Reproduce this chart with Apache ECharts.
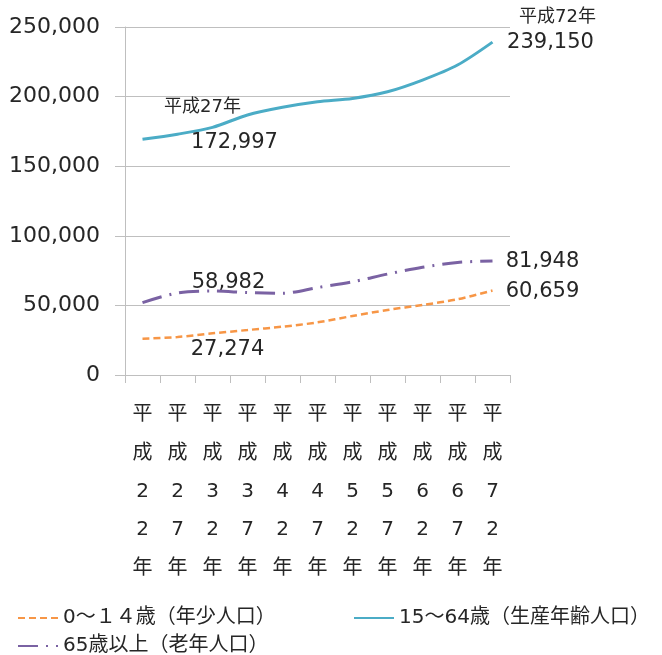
<!DOCTYPE html>
<html><head><meta charset="utf-8">
<script src="https://cdn.jsdelivr.net/npm/echarts@6/dist/echarts.min.js"></script>
<style>html,body{margin:0;padding:0;background:#fff}#c{width:662px;height:655px}</style>
</head><body><div id="c"></div>
<script>
const categories = ['平成22年','平成27年','平成32年','平成37年','平成42年','平成47年','平成52年','平成57年','平成62年','平成67年','平成72年'];
const young = [26100, 27274, 29950, 32300, 34700, 37800, 42400, 46700, 50300, 54400, 60659];
const working = [169300, 172997, 177900, 186800, 192300, 196300, 198700, 203500, 211900, 222700, 239150];
const elderly = [51950, 58982, 60300, 59200, 58700, 62800, 67000, 72500, 77400, 80900, 81948];
const seriesNames = ['0～１４歳（年少人口）', '15～64歳（生産年齢人口）', '65歳以上（老年人口）'];
const yTicks = [0, 50000, 100000, 150000, 200000, 250000];

const FONT = "'DejaVu Sans', 'Noto Sans CJK JP', sans-serif";
const TXT = '#262626';
const fmt = v => v.toLocaleString('en-US');

const chart = echarts.init(document.getElementById('c'), null, {renderer: 'canvas'});
function mp(idx, arr, text, offset, size) {
  return {coord: [categories[idx], arr[idx]], value: arr[idx], symbolSize: 0,
    label: {show: true, formatter: text, offset: offset, position: 'inside',
      fontSize: size, color: TXT, fontFamily: FONT}};
}
function lg(name, left, top) {
  return {data: [name], left: left, top: top, itemWidth: 40, itemHeight: 14, itemGap: 5,
    itemStyle: {opacity: 0},
    textStyle: {fontSize: 20, color: TXT, fontFamily: FONT}};
}
const option = {
  animation: false,
  backgroundColor: '#fff',
  grid: {left: 125, right: 152, top: 27, bottom: 280, containLabel: false},
  legend: [
    lg(seriesNames[0], 12, 603),
    lg(seriesNames[1], 348, 603),
    lg(seriesNames[2], 12, 631)
  ],
  xAxis: {
    type: 'category', data: categories, boundaryGap: true,
    axisLine: {lineStyle: {color: '#bfbfbf', width: 1}},
    axisTick: {show: true, length: 8, lineStyle: {color: '#bfbfbf'}},
    axisLabel: {interval: 0, margin: 21, lineHeight: 38.3, fontSize: 20, color: TXT, fontFamily: FONT,
      formatter: v => v.split('').join('\n')}
  },
  yAxis: {
    type: 'value', min: yTicks[0], max: yTicks[yTicks.length - 1], interval: yTicks[1] - yTicks[0],
    axisLine: {show: true, lineStyle: {color: '#bfbfbf'}},
    axisTick: {show: true, length: 10, lineStyle: {color: '#bfbfbf'}},
    splitLine: {lineStyle: {color: '#bfbfbf', width: 1}},
    axisLabel: {margin: 25, fontSize: 22, color: TXT, fontFamily: FONT, formatter: fmt}
  },
  series: [
    {name: seriesNames[0], type: 'line', data: young, smooth: 0.3, symbol: 'none', z: 3,
      color: '#f79646', lineStyle: {color: '#f79646', width: 2.5, type: [7, 4]},
      markPoint: {symbol: 'circle', data: [
        mp(1, young, fmt(young[1]), [50, 13], 21),
        mp(10, young, fmt(young[10]), [50, 1], 21)
      ]}},
    {name: seriesNames[1], type: 'line', data: working, smooth: 0.3, symbol: 'none', z: 3,
      color: '#4bacc6', lineStyle: {color: '#4bacc6', width: 3},
      markPoint: {symbol: 'circle', data: [
        mp(1, working, categories[1], [25, -27], 18),
        mp(1, working, fmt(working[1]), [57, 8], 21),
        mp(10, working, categories[10], [65, -25], 18),
        mp(10, working, fmt(working[10]), [58, 0], 21)
      ]}},
    {name: seriesNames[2], type: 'line', data: elderly, smooth: 0.3, symbol: 'none', z: 3,
      color: '#7a62a3', lineStyle: {color: '#7a62a3', width: 3, type: [20, 8, 2, 8]},
      markPoint: {symbol: 'circle', data: [
        mp(1, elderly, fmt(elderly[1]), [51, -10], 21),
        mp(10, elderly, fmt(elderly[10]), [50, 1], 21)
      ]}}
  ]
};
chart.setOption(option);
</script></body></html>
